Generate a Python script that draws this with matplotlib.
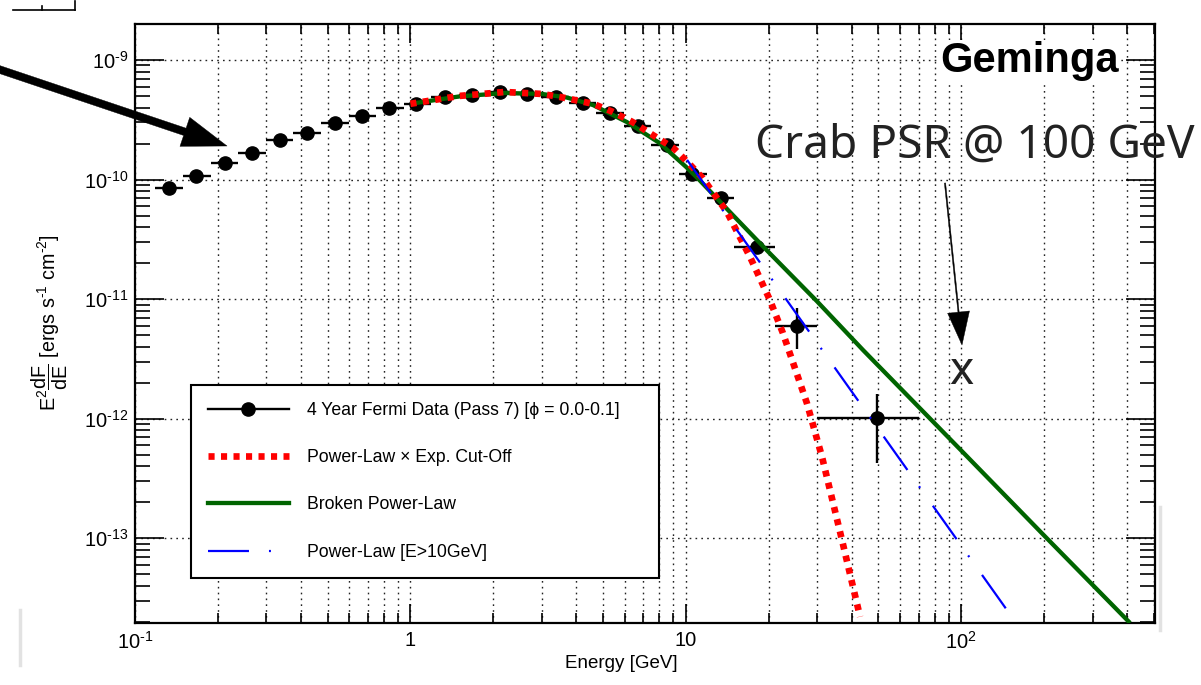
import matplotlib
matplotlib.use('Agg')
import matplotlib.pyplot as plt
from matplotlib.lines import Line2D
from matplotlib.ticker import LogLocator, NullFormatter
import numpy as np

plt.rcParams['font.family'] = ['Liberation Sans', 'DejaVu Sans']
plt.rcParams['mathtext.fontset'] = 'custom'
plt.rcParams['mathtext.rm'] = 'Liberation Sans'
plt.rcParams['mathtext.it'] = 'Liberation Sans:italic'
plt.rcParams['mathtext.bf'] = 'Liberation Sans:bold'
plt.rcParams['mathtext.default'] = 'regular'
plt.rcParams['lines.scale_dashes'] = False

# ---------------- data ----------------
data_E = [0.133, 0.167, 0.212, 0.266, 0.336, 0.422, 0.533, 0.668, 0.839, 1.05,
          1.34, 1.67, 2.11, 2.66, 3.37, 4.22, 5.29, 6.69, 8.53, 10.5,
          13.4, 18.1, 25.3, 49.5]
data_F = [8.49e-11, 1.07e-10, 1.37e-10, 1.67e-10, 2.14e-10, 2.45e-10, 2.97e-10, 3.40e-10,
          3.96e-10, 4.28e-10, 4.90e-10, 5.09e-10, 5.40e-10, 5.19e-10, 4.90e-10, 4.36e-10,
          3.60e-10, 2.81e-10, 1.95e-10, 1.11e-10, 7.0e-11, 2.72e-11, 5.94e-12, 1.01e-12]
bin_edges = [0.118, 0.149, 0.188, 0.237, 0.298, 0.376, 0.473, 0.596, 0.750, 0.944,
             1.19, 1.50, 1.89, 2.37, 2.99, 3.76, 4.73, 5.96, 7.50, 9.44,
             11.9, 15.0, 21.0, 30.0, 70.0]
data_F_low = [8.49e-11, 1.07e-10, 1.37e-10, 1.67e-10, 2.14e-10, 2.45e-10, 2.97e-10, 3.40e-10,
              3.96e-10, 4.28e-10, 4.90e-10, 5.09e-10, 5.40e-10, 5.19e-10, 4.90e-10, 4.36e-10,
              3.60e-10, 2.81e-10, 1.95e-10, 1.11e-10, 6.6e-11, 2.45e-11, 3.82e-12, 4.25e-13]
data_F_high = [8.49e-11, 1.07e-10, 1.37e-10, 1.67e-10, 2.14e-10, 2.45e-10, 2.97e-10, 3.40e-10,
               3.96e-10, 4.28e-10, 4.90e-10, 5.09e-10, 5.40e-10, 5.19e-10, 4.90e-10, 4.36e-10,
               3.60e-10, 2.81e-10, 1.95e-10, 1.11e-10, 7.4e-11, 3.0e-11, 8.4e-12, 1.6e-12]

plec_E = [1.0, 1.5, 2.2, 3.0, 3.5, 4.6, 5.4, 6.4, 7.6, 9.0, 10.2, 11.5, 14.1, 17.1,
          20.2, 22.5, 27.5, 31.2, 36.9, 42.9]
plec_F = [4.3e-10, 5.0e-10, 5.4e-10, 5.2e-10, 4.9e-10, 4.3e-10, 3.7e-10, 3.03e-10, 2.35e-10,
          1.84e-10, 1.38e-10, 1.03e-10, 5.35e-11, 2.25e-11, 9.8e-12, 5.2e-12, 1.35e-12,
          4.8e-13, 9.6e-14, 2.2e-14]

bpl_E = [1.0, 1.5, 2.2, 3.0, 3.7, 4.6, 6.1, 8.0, 10.0, 11.2, 14.8, 19.7, 29.9, 44.0,
         100.0, 200.0, 410.0]
bpl_F = [4.3e-10, 4.95e-10, 5.3e-10, 5.2e-10, 4.85e-10, 4.2e-10, 3.03e-10, 2.03e-10,
         1.28e-10, 9.9e-11, 5.05e-11, 2.55e-11, 9.6e-12, 3.74e-12, 5.4e-13, 1.05e-13, 1.95e-14]

pl_E = [10.1, 157.0]
pl_F = [1.46e-10, 2.0e-14]

legend_labels = ['4 Year Fermi Data (Pass 7) [\u03d5 = 0.0-0.1]',
                 'Power-Law \u00d7 Exp. Cut-Off',
                 'Broken Power-Law',
                 'Power-Law [E>10GeV]']

xtick_vals = [0.1, 1, 10, 100]
xtick_labels = [r'$10^{\text{-}1}$', '1', '10', r'$10^{2}$']
ytick_vals = [1e-13, 1e-12, 1e-11, 1e-10, 1e-9]
ytick_labels = [r'$10^{\text{-}13}$', r'$10^{\text{-}12}$', r'$10^{\text{-}11}$',
                r'$10^{\text{-}10}$', r'$10^{\text{-}9}$']

crab_E = 100.0
crab_F = 1.95e-12

# ---------------- figure ----------------
W, H = 1201, 685
fig = plt.figure(figsize=(W / 100, H / 100), dpi=100)
ax = fig.add_axes([135 / W, 1 - 623 / H, (1155 - 135) / W, (623 - 24) / H])
ax.set_xscale('log')
ax.set_yscale('log')
ax.set_xlim(0.1, 505)
ax.set_ylim(1.95e-14, 2.0e-9)

green = '#006400'

E = np.array(data_E)
F = np.array(data_F)
lo = np.array(bin_edges[:-1])
hi = np.array(bin_edges[1:])
ax.errorbar(E, F, xerr=[E - lo, hi - E],
            yerr=[F - np.array(data_F_low), np.array(data_F_high) - F],
            fmt='o', color='k', ms=9.5, elinewidth=1.7, capsize=0, zorder=3)

ax.plot(plec_E, plec_F, color='#ff0000', lw=4.8, linestyle=(0, (4.4, 4.6)),
        dash_capstyle='butt', zorder=5)
ax.plot(bpl_E, bpl_F, color=green, lw=3.1, zorder=4, solid_capstyle='butt')
ax.plot(pl_E, pl_F, color='#0000ff', lw=1.6, linestyle=(0, (29.5, 14.4, 1.4, 15.8)),
        zorder=6)

# ticks
ax.set_xticks(xtick_vals)
ax.set_xticklabels(xtick_labels)
ax.set_yticks(ytick_vals)
ax.set_yticklabels(ytick_labels)
ax.xaxis.set_minor_locator(LogLocator(base=10, subs=np.arange(2, 10), numticks=100))
ax.yaxis.set_minor_locator(LogLocator(base=10, subs=np.arange(2, 10), numticks=100))
ax.xaxis.set_minor_formatter(NullFormatter())
ax.yaxis.set_minor_formatter(NullFormatter())
ax.tick_params(which='both', direction='in', top=True, right=True, width=1.2, color='k')
ax.tick_params(axis='x', which='major', length=14, labelsize=14.5, pad=6)
ax.tick_params(axis='x', which='minor', length=7)
ax.tick_params(axis='y', which='major', length=21, labelsize=14.5, pad=5)
ax.tick_params(axis='y', which='minor', length=11)
for s in ax.spines.values():
    s.set_linewidth(1.6)

ax.grid(True, which='both', axis='x', color='#222222', lw=1.0, linestyle=(0, (1.2, 3.0)))
ax.grid(True, which='major', axis='y', color='#222222', lw=1.0, linestyle=(0, (1.2, 3.0)))
ax.set_axisbelow(True)

# axis titles
fig.text(621 / W, 1 - 663 / H, 'Energy [GeV]', ha='center', va='center', fontsize=13.5)
fig.text(50 / W, 1 - 323 / H, r'$E^{2}\dfrac{dF}{dE}$ [ergs s$^{\text{-}1}$ cm$^{\text{-}2}$]',
         rotation=90, ha='center', va='center', fontsize=14.2)

# legend
handles = [
    Line2D([], [], color='k', lw=1.7, marker='o', ms=9.5),
    Line2D([], [], color='#ff0000', lw=4.8, linestyle=(0, (4.4, 4.6)), dash_capstyle='butt'),
    Line2D([], [], color=green, lw=3.1),
    Line2D([], [], color='#0000ff', lw=1.6, linestyle=(0, (29.5, 14.4, 1.4, 15.8))),
]
leg = ax.legend(handles, legend_labels, loc='upper left',
                bbox_to_anchor=(191 / W, 1 - 385 / H, (659 - 191) / W, 0),
                bbox_transform=fig.transFigure, mode='expand', fontsize=12.7,
                labelspacing=1.72, borderpad=0.95, handlelength=4.6, handletextpad=1.0,
                frameon=True, fancybox=False, framealpha=1, edgecolor='k',
                borderaxespad=0, numpoints=1)
leg.get_frame().set_linewidth(1.5)
leg.set_zorder(10)

# Geminga label
fig.text(940 / W, 1 - 72 / H, 'Geminga', fontsize=30, fontweight='bold', va='baseline',
         ha='left', bbox=dict(fc='white', ec='none', pad=1.0), zorder=11)

# Crab annotation
fig.text(755 / W, 1 - 158 / H, 'Crab PSR @ 100 GeV', fontsize=33.2,
         family=['Noto Sans', 'DejaVu Sans'],
         color='#222222', va='baseline', ha='left', zorder=12)
ax.text(crab_E, crab_F, 'x', fontsize=33, family=['Noto Sans', 'DejaVu Sans'],
        color='#222222', ha='center', va='baseline', zorder=12)
ax.annotate('', xy=(962 / W, 1 - 345 / H), xytext=(945 / W, 1 - 183 / H),
            xycoords='figure fraction', textcoords='figure fraction',
            arrowprops=dict(arrowstyle='simple,head_length=2.38,head_width=1.58,tail_width=0.09',
                            mutation_scale=10, fc='k', ec='k', lw=0.3,
                            shrinkA=0, shrinkB=0), zorder=12)

# big arrow at left
ax.annotate('', xy=(227 / W, 1 - 146 / H), xytext=(-5 / W, 1 - 68 / H),
            xycoords='figure fraction', textcoords='figure fraction',
            arrowprops=dict(arrowstyle='simple,head_length=3.2,head_width=2.2,tail_width=0.55',
                            mutation_scale=10, fc='k', ec='k', lw=0.3,
                            shrinkA=0, shrinkB=0), zorder=12)

# fragments at the figure edges
fig.add_artist(Line2D([13 / W, 75 / W], [1 - 10 / H, 1 - 10 / H], color='k', lw=1.2))
fig.add_artist(Line2D([42 / W, 42 / W], [1 - 10 / H, 1 - 6 / H], color='k', lw=1.2))
fig.add_artist(Line2D([75 / W, 75 / W], [1 - 10 / H, 1 - 1 / H], color='k', lw=1.2))
fig.add_artist(Line2D([1160 / W, 1160 / W], [1 - 507 / H, 1 - 630 / H], color='#e2e2e2', lw=2.5))
fig.add_artist(Line2D([20 / W, 20 / W], [1 - 610 / H, 1 - 665 / H], color='#e2e2e2', lw=2.5))

fig.savefig('out.png', dpi=100)
